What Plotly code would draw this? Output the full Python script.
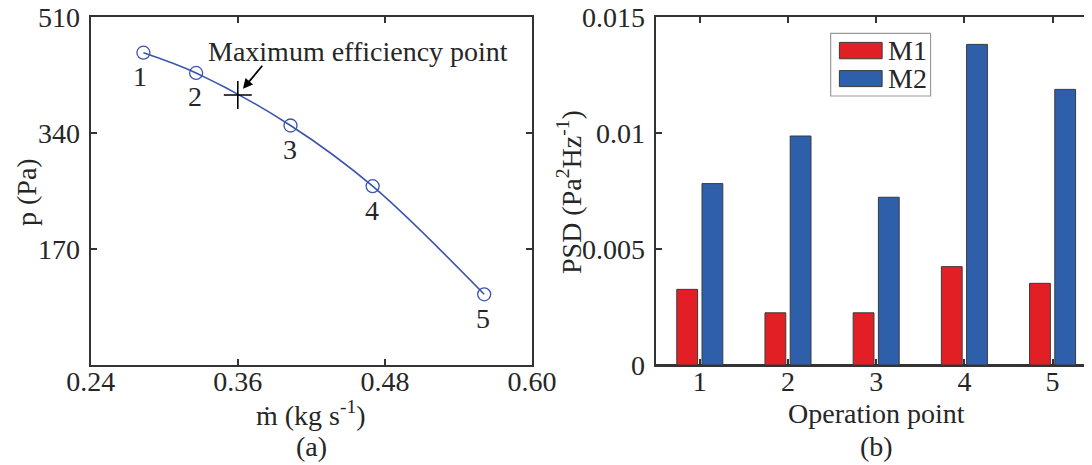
import plotly.graph_objects as go

# ---- data: panel (a) ----
mdot = [0.283, 0.326, 0.403, 0.470, 0.561]
p_pa = [457.7, 428.0, 351.0, 262.0, 103.6]
point_labels = ["1", "2", "3", "4", "5"]
max_eff_x = [0.36]
max_eff_y = [395.7]
xa_ticks = [0.24, 0.36, 0.48, 0.60]
xa_ticktext = ["0.24", "0.36", "0.48", "0.60"]
ya_ticks = [170, 340, 510]

# ---- data: panel (b) ----
op_points = [1, 2, 3, 4, 5]
psd_m1 = [0.00326, 0.00225, 0.00225, 0.00424, 0.00352]
psd_m2 = [0.00782, 0.00987, 0.00723, 0.01382, 0.01188]
yb_ticks = [0, 0.005, 0.01, 0.015]
yb_ticktext = ["0", "0.005", "0.01", "0.015"]

OFF = 8  # page body margin
W, H = 1092 - OFF, 465 - OFF
RED = "#E31F26"
BLUE = "#2E5FAB"
LINEBLUE = "#3A55B0"
AX = "#333333"
TXT = "#262626"
FONT = "Liberation Serif"
FS = 28


def fx(px):
    return (px - OFF) / W


def fy(py):
    return 1 - (py - OFF) / H


def tfont(size=FS):
    return dict(family=FONT, size=size, color=TXT)


fig = go.Figure()

fig.add_trace(go.Scatter(
    x=mdot, y=p_pa, mode="lines+markers",
    line=dict(color=LINEBLUE, width=1.6, shape="spline", smoothing=1.0),
    marker=dict(symbol="circle-open", size=13, color=LINEBLUE, line=dict(width=1.3)),
    xaxis="x", yaxis="y", showlegend=False, hoverinfo="skip"))

fig.add_trace(go.Scatter(
    x=max_eff_x, y=max_eff_y, mode="markers",
    marker=dict(symbol="cross-thin", size=20, color="black", line=dict(width=1.6, color="black")),
    xaxis="x", yaxis="y", showlegend=False, hoverinfo="skip"))

fig.add_trace(go.Bar(
    x=op_points, y=psd_m1, name="M1",
    marker=dict(color=RED, line=dict(color="#3a3a3a", width=1)),
    xaxis="x2", yaxis="y2", showlegend=False))
fig.add_trace(go.Bar(
    x=op_points, y=psd_m2, name="M2",
    marker=dict(color=BLUE, line=dict(color="#3a3a3a", width=1)),
    xaxis="x2", yaxis="y2", showlegend=False))

axis_common = dict(
    showgrid=False, zeroline=False, showline=True, linecolor=AX, linewidth=2,
    ticks="inside", ticklen=6, tickwidth=2, tickcolor=AX, automargin=False,
    ticklabeloverflow="allow", tickfont=tfont(),
)

annotations = []
for xv, yv, lab in zip(mdot, p_pa, point_labels):
    annotations.append(dict(x=xv, y=yv, xref="x", yref="y", text=lab, showarrow=False,
                            yshift=-24, xshift=-3 if lab == "1" else -1, font=tfont()))

annotations.append(dict(x=max_eff_x[0], y=max_eff_y[0], xref="x", yref="y",
                        text=" ", font=dict(size=1), showarrow=True, ax=26, ay=-31, standoff=8,
                        arrowhead=2, arrowsize=1.1, arrowwidth=1.8, arrowcolor="black"))


def pix_text(px, py, text, angle=0):
    return dict(x=fx(px), y=fy(py), xref="paper", yref="paper", text=text,
                showarrow=False, textangle=angle, xanchor="center", yanchor="middle", font=tfont())


annotations += [
    pix_text(358, 51, "Maximum efficiency point"),
    pix_text(26, 192, "p (Pa)", angle=-90),
    pix_text(311, 413, "ṁ (kg s<sup>-1</sup>)"),
    pix_text(311, 446, "(a)"),
    pix_text(569, 192, "PSD (Pa<sup>2</sup>Hz<sup>-1</sup>)", angle=-90),
    pix_text(876, 413, "Operation point"),
    pix_text(876, 446, "(b)"),
]

# legend (manual, wide swatches)
shapes = [
    dict(type="rect", xref="x2 domain", yref="y2 domain", x0=0.401, x1=0.630, y0=0.773, y1=0.953,
         line=dict(color="#999999", width=1.2), fillcolor="white"),
    dict(type="rect", xref="x2 domain", yref="y2 domain", x0=0.421, x1=0.519, y0=0.880, y1=0.927,
         line=dict(color="#3a3a3a", width=1), fillcolor=RED),
    dict(type="rect", xref="x2 domain", yref="y2 domain", x0=0.421, x1=0.519, y0=0.800, y1=0.846,
         line=dict(color="#3a3a3a", width=1), fillcolor=BLUE),
]
annotations.append(dict(x=0.527, y=0.904, xref="x2 domain", yref="y2 domain", text="M1",
                        xanchor="left", yanchor="middle", showarrow=False, font=tfont()))
annotations.append(dict(x=0.527, y=0.822, xref="x2 domain", yref="y2 domain", text="M2",
                        xanchor="left", yanchor="middle", showarrow=False, font=tfont()))

fig.update_layout(
    width=W, height=H,
    margin=dict(l=0, r=0, t=0, b=0, autoexpand=False),
    paper_bgcolor="white", plot_bgcolor="white",
    barmode="group", bargap=0.428, bargroupgap=0.175,
    font=tfont(),
    xaxis=dict(domain=[fx(90.7), fx(532)], range=[0.24, 0.60], mirror="ticks",
               tickvals=xa_ticks, ticktext=xa_ticktext, anchor="y", ticklabelstandoff=-10,
               **axis_common),
    yaxis=dict(domain=[fy(365), fy(17)], range=[0, 510], mirror="ticks",
               tickvals=ya_ticks, anchor="x", ticklabelstandoff=3, **axis_common),
    xaxis2=dict(domain=[fx(655.7), 1.0], range=[0.5, 5.447], mirror="ticks",
                tickvals=op_points, anchor="y2", ticklabelstandoff=-10, **axis_common),
    yaxis2=dict(domain=[fy(365), fy(17)], range=[0, 0.015], mirror=False,
                tickvals=yb_ticks, ticktext=yb_ticktext, anchor="x2", ticklabelstandoff=3,
                **{**axis_common, "zeroline": True, "zerolinecolor": AX, "zerolinewidth": 3}),
    annotations=annotations,
    shapes=shapes,
)

fig.write_html("out.html")
